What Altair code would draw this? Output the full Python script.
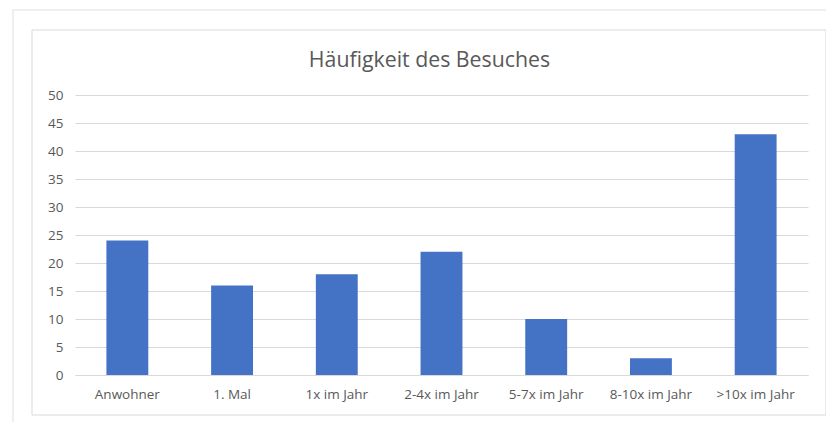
import altair as alt
import pandas as pd

categories = ["Anwohner", "1. Mal", "1x im Jahr", "2-4x im Jahr", "5-7x im Jahr", "8-10x im Jahr", ">10x im Jahr"]
values = [24, 16, 18, 22, 10, 3, 43]
title_text = ["Häufigkeit des Besuches"]

df = pd.DataFrame({"Kategorie": categories, "Anzahl": values})

FONT = "Open Sans"
GREY = "#595959"

W, H = 733, 280

one = pd.DataFrame({"t": title_text})

frame = alt.Chart(one).mark_rect(
    fill=None, stroke="#d9d9d9", strokeWidth=1, clip=False
).encode(
    x=alt.value(-43), x2=alt.value(751), y=alt.value(-65), y2=alt.value(320)
)

shadow = alt.Chart(one).mark_rect(
    fill=None, stroke="#efefef", strokeWidth=2, clip=False
).encode(
    x=alt.value(-62), x2=alt.value(760), y=alt.value(-85), y2=alt.value(330)
)

title = alt.Chart(one).mark_text(
    font=FONT, fontSize=21.3, color=GREY, align="center", baseline="middle", clip=False
).encode(
    text="t:N", x=alt.value(W / 2 - 12), y=alt.value(-34)
)

bars = alt.Chart(df).mark_bar(color="#4472C4").encode(
    x=alt.X("Kategorie:N", sort=categories,
            scale=alt.Scale(paddingInner=0.6, paddingOuter=0.3),
            axis=alt.Axis(title=None, labelAngle=0, labelFont=FONT, labelFontSize=13.5,
                          labelColor=GREY, labelPadding=12, ticks=False,
                          domainColor="#d9d9d9", domainWidth=1)),
    y=alt.Y("Anzahl:Q", scale=alt.Scale(domain=[0, 50], nice=False),
            axis=alt.Axis(title=None, values=list(range(0, 51, 5)), labelFont=FONT,
                          labelFontSize=13.5, labelColor=GREY, labelPadding=12,
                          ticks=False, domain=False, gridColor="#d9d9d9", gridWidth=1)),
)

chart = alt.layer(shadow, frame, bars, title).properties(
    width=W, height=H,
    autosize=alt.AutoSizeParams(type="none"),
    padding={"left": 67, "top": 87, "right": 18, "bottom": 47},
).configure_view(stroke=None)

chart.save("out.html", embed_options={"renderer": "svg", "actions": False})
